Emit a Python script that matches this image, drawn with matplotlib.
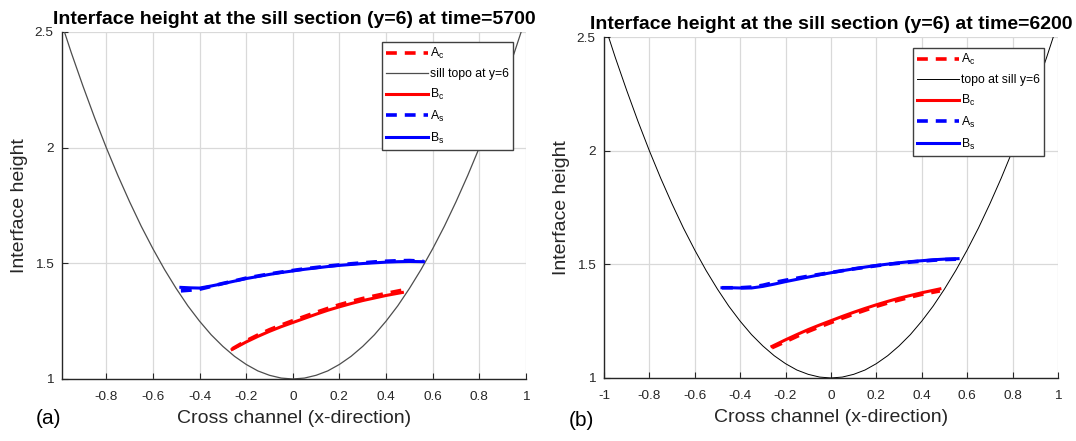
import numpy as np
import matplotlib
matplotlib.use('Agg')
import matplotlib.pyplot as plt
from matplotlib.ticker import FormatStrFormatter

plt.rcParams['font.family'] = ['Liberation Sans', 'DejaVu Sans']
plt.rcParams['axes.unicode_minus'] = False
plt.rcParams['mathtext.fontset'] = 'custom'
plt.rcParams['mathtext.rm'] = 'Liberation Sans'
plt.rcParams['mathtext.it'] = 'Liberation Sans'

# sill topography (cross section at y=6)
topo_x = [-1.00, -0.95, -0.90, -0.85, -0.80, -0.75, -0.70, -0.65, -0.60, -0.55,
          -0.50, -0.45, -0.40, -0.35, -0.30, -0.25, -0.20, -0.15, -0.10, -0.05,
          0.00, 0.05, 0.10, 0.15, 0.20, 0.25, 0.30, 0.35, 0.40, 0.45,
          0.50, 0.55, 0.60, 0.65, 0.70, 0.75, 0.80, 0.85, 0.90, 0.95, 1.00]
topo_y = [2.563, 2.410, 2.266, 2.129, 2.000, 1.879, 1.766, 1.660, 1.563, 1.473,
          1.391, 1.316, 1.250, 1.191, 1.141, 1.098, 1.063, 1.035, 1.016, 1.004,
          1.000, 1.004, 1.016, 1.035, 1.063, 1.098, 1.141, 1.191, 1.250, 1.316,
          1.391, 1.473, 1.563, 1.660, 1.766, 1.879, 2.000, 2.129, 2.266, 2.410, 2.563]

# blue pair (s), same x grid for both panels
s_x = [-0.48, -0.44, -0.40, -0.35, -0.30, -0.25, -0.20, -0.15, -0.10, -0.05, 0.00,
       0.05, 0.10, 0.15, 0.20, 0.25, 0.30, 0.35, 0.40, 0.45, 0.50, 0.56]
# red pair (c)
c_x_a = [-0.26, -0.20, -0.15, -0.10, -0.05, 0.00, 0.05, 0.10, 0.15, 0.20,
         0.25, 0.30, 0.35, 0.40, 0.47]
c_x_b = [-0.26, -0.20, -0.15, -0.10, -0.05, 0.00, 0.05, 0.10, 0.15, 0.20,
         0.25, 0.30, 0.35, 0.40, 0.48]

# time = 5700
Bs_5700 = [1.396, 1.394, 1.393, 1.402, 1.412, 1.423, 1.434, 1.443, 1.452, 1.460, 1.467,
           1.474, 1.480, 1.486, 1.491, 1.495, 1.499, 1.502, 1.505, 1.507, 1.508, 1.507]
As_5700 = [1.381, 1.384, 1.388, 1.400, 1.413, 1.424, 1.436, 1.445, 1.454, 1.462, 1.469,
           1.476, 1.482, 1.488, 1.493, 1.498, 1.502, 1.506, 1.509, 1.511, 1.512, 1.509]
Bc_5700 = [1.128, 1.160, 1.184, 1.206, 1.226, 1.244, 1.262, 1.280, 1.297, 1.312,
           1.326, 1.339, 1.350, 1.361, 1.374]
Ac_5700 = [1.130, 1.165, 1.190, 1.213, 1.233, 1.252, 1.270, 1.288, 1.305, 1.321,
           1.335, 1.348, 1.359, 1.370, 1.384]

# time = 6200
Bs_6200 = [1.397, 1.397, 1.396, 1.396, 1.403, 1.413, 1.424, 1.434, 1.444, 1.454, 1.463,
           1.472, 1.480, 1.488, 1.495, 1.501, 1.507, 1.512, 1.516, 1.520, 1.523, 1.525]
As_6200 = [1.397, 1.397, 1.397, 1.400, 1.408, 1.420, 1.430, 1.439, 1.448, 1.456, 1.464,
           1.472, 1.480, 1.487, 1.494, 1.500, 1.505, 1.510, 1.514, 1.518, 1.521, 1.523]
Bc_6200 = [1.139, 1.168, 1.191, 1.213, 1.233, 1.252, 1.271, 1.289, 1.306, 1.322,
           1.337, 1.351, 1.363, 1.375, 1.392]
Ac_6200 = [1.133, 1.160, 1.183, 1.205, 1.225, 1.244, 1.263, 1.281, 1.298, 1.315,
           1.330, 1.343, 1.356, 1.368, 1.383]

x_ticks = [-1, -0.8, -0.6, -0.4, -0.2, 0, 0.2, 0.4, 0.6, 0.8, 1]
y_ticks = [1, 1.5, 2, 2.5]

DARK = '#262626'
dash = (0, (3.0, 2.2))


def panel(ax, time, Ac, Bc, As, Bs, c_x, topo_lbl, topo_col, topo_lw, xmin, leg_xy):
    ax.plot(c_x, Ac, color='red', lw=2.6, ls=dash, label='A$_c$')
    ax.plot(topo_x, topo_y, color=topo_col, lw=topo_lw, label=topo_lbl)
    ax.plot(c_x, Bc, color='red', lw=2.2, label='B$_c$')
    ax.plot(s_x, As, color='blue', lw=2.6, ls=dash, label='A$_s$')
    ax.plot(s_x, Bs, color='blue', lw=2.2, label='B$_s$')

    ax.set_xlim(xmin, 1)
    ax.set_ylim(1, 2.5)
    ax.set_xticks([t for t in x_ticks if t >= xmin])
    ax.set_yticks(y_ticks)
    ax.xaxis.set_major_formatter(FormatStrFormatter('%g'))
    ax.yaxis.set_major_formatter(FormatStrFormatter('%g'))
    ax.grid(True, color='#d9d9d9', lw=0.9)
    ax.set_axisbelow(True)
    for s in ['top', 'right']:
        ax.spines[s].set_visible(False)
    for s in ['left', 'bottom']:
        ax.spines[s].set_color(DARK)
        ax.spines[s].set_linewidth(1.0)
    ax.tick_params(direction='in', length=4, width=0.8, colors=DARK,
                   labelsize=9.7, pad=6)
    ax.tick_params(axis='x', pad=9)

    ax.set_title('Interface height at the sill section (y=6) at time=%d' % time,
                 fontsize=14, fontweight='bold', pad=6)
    ax.set_xlabel('Cross channel (x-direction)', fontsize=14, color=DARK, labelpad=5)
    ax.set_ylabel('Interface height', fontsize=14, color=DARK, labelpad=5)

    leg = ax.legend(loc='upper left', bbox_to_anchor=leg_xy, fontsize=8.8,
                    handlelength=3.4, handletextpad=0.15, labelspacing=0.55,
                    borderpad=0.35, borderaxespad=0, fancybox=False,
                    framealpha=1, edgecolor='#404040')
    leg.get_frame().set_linewidth(1.0)


fig = plt.figure(figsize=(10.76, 4.41), dpi=100, facecolor='white')
ax1 = fig.add_axes([0.0576, 0.1406, 0.4312, 0.787])
ax2 = fig.add_axes([0.5613, 0.1429, 0.4219, 0.773])

panel(ax1, 5700, Ac_5700, Bc_5700, As_5700, Bs_5700, c_x_a,
      'sill topo at y=6', '#4d4d4d', 0.9, -0.99, (0.69, 0.971))
panel(ax2, 6200, Ac_6200, Bc_6200, As_6200, Bs_6200, c_x_b,
      'topo at sill y=6', 'black', 0.7, -1.0, (0.681, 0.968))

fig.text(36 / 1076, 1 - 419 / 441, '(a)', fontsize=15, va='center', ha='left')
fig.text(569 / 1076, 1 - 411 / 441, '(b)', fontsize=15, va='top', ha='left')

fig.savefig('out.png', dpi=100)
